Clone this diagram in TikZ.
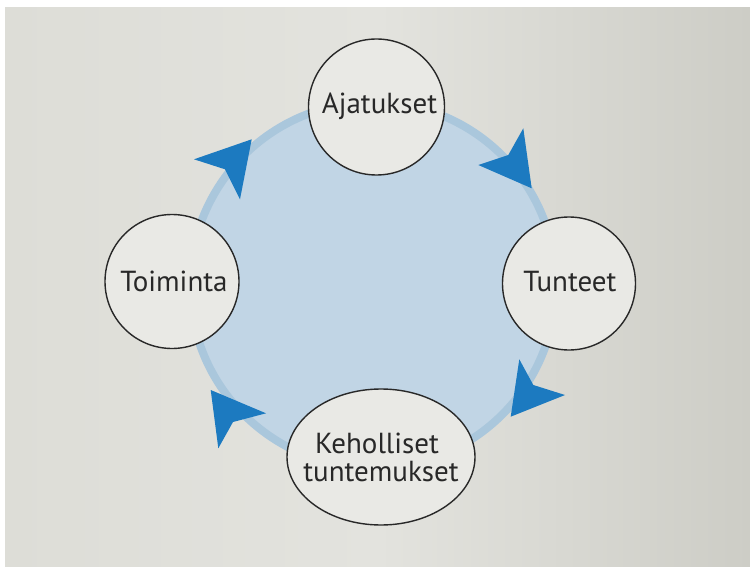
\documentclass[tikz,border=0pt]{standalone}
\usepackage{fontspec}
\setmainfont{PT Sans}
\usetikzlibrary{shapes.geometric}
\definecolor{paperL}{RGB}{221,221,215}
\definecolor{paperM}{RGB}{227,227,222}
\definecolor{paperR}{RGB}{205,205,198}
\definecolor{bubble}{RGB}{233,233,229}
\definecolor{bluefill}{RGB}{193,213,229}
\definecolor{blueedge}{RGB}{170,199,220}
\definecolor{arrowblue}{RGB}{28,122,192}
\definecolor{inkgray}{RGB}{40,40,40}
\tikzset{
  bubblenode/.style={circle, draw=inkgray, line width=1.4pt, fill=bubble, inner sep=0pt},
  ovalnode/.style={ellipse, draw=inkgray, line width=1.4pt, fill=bubble, inner sep=0pt},
  labeltext/.style={anchor=base, inner sep=0pt, text=inkgray, font=\fontsize{29}{29}\selectfont},
  arrowhead/.style={fill=arrowblue}
}
\begin{document}
\begin{tikzpicture}[x=1pt,y=-1pt]
\useasboundingbox (0,0) rectangle (750,567);
\fill[white] (0,0) rectangle (750,567);
\shade[left color=paperL, right color=paperR, middle color=paperM] (5,8) rectangle (750,567);
% big blue circle
\node[circle, draw=blueedge, line width=8pt, fill=bluefill, minimum size=366pt, inner sep=0pt] (cycle) at (373,285) {};
% arrowheads
\fill[arrowhead] (251.7,139.3) -- (194,159.3) -- (225,169.3) -- (240,199.3) -- cycle;
\fill[arrowhead] (531.7,188.3) -- (523.3,128.3) -- (508.3,155) -- (478.3,165) -- cycle;
\fill[arrowhead] (510.7,416.7) -- (519.3,359.3) -- (533.3,385) -- (565,395) -- cycle;
\fill[arrowhead] (210.7,390) -- (266,413.3) -- (233,422) -- (218.3,448.3) -- cycle;
% bubbles
\node[bubblenode, minimum size=136pt] (ajat) at (376.5,107) {};
\node[bubblenode, minimum size=134pt] (toim) at (172,281.5) {};
\node[bubblenode, minimum size=133pt] (tunt) at (569,283.5) {};
\node[ovalnode, minimum width=188pt, minimum height=136pt] (keho) at (381,457) {};
% texts
\node[labeltext] (tajat) at (379.5,113.3) {Ajatukset};
\node[labeltext] (ttoim) at (174,291.7) {Toiminta};
\node[labeltext] (ttunt) at (570,291.7) {Tunteet};
\node[labeltext] (tkeho1) at (377,453.3) {Keholliset};
\node[labeltext] (tkeho2) at (381,481.7) {tuntemukset};
\end{tikzpicture}
\end{document}
